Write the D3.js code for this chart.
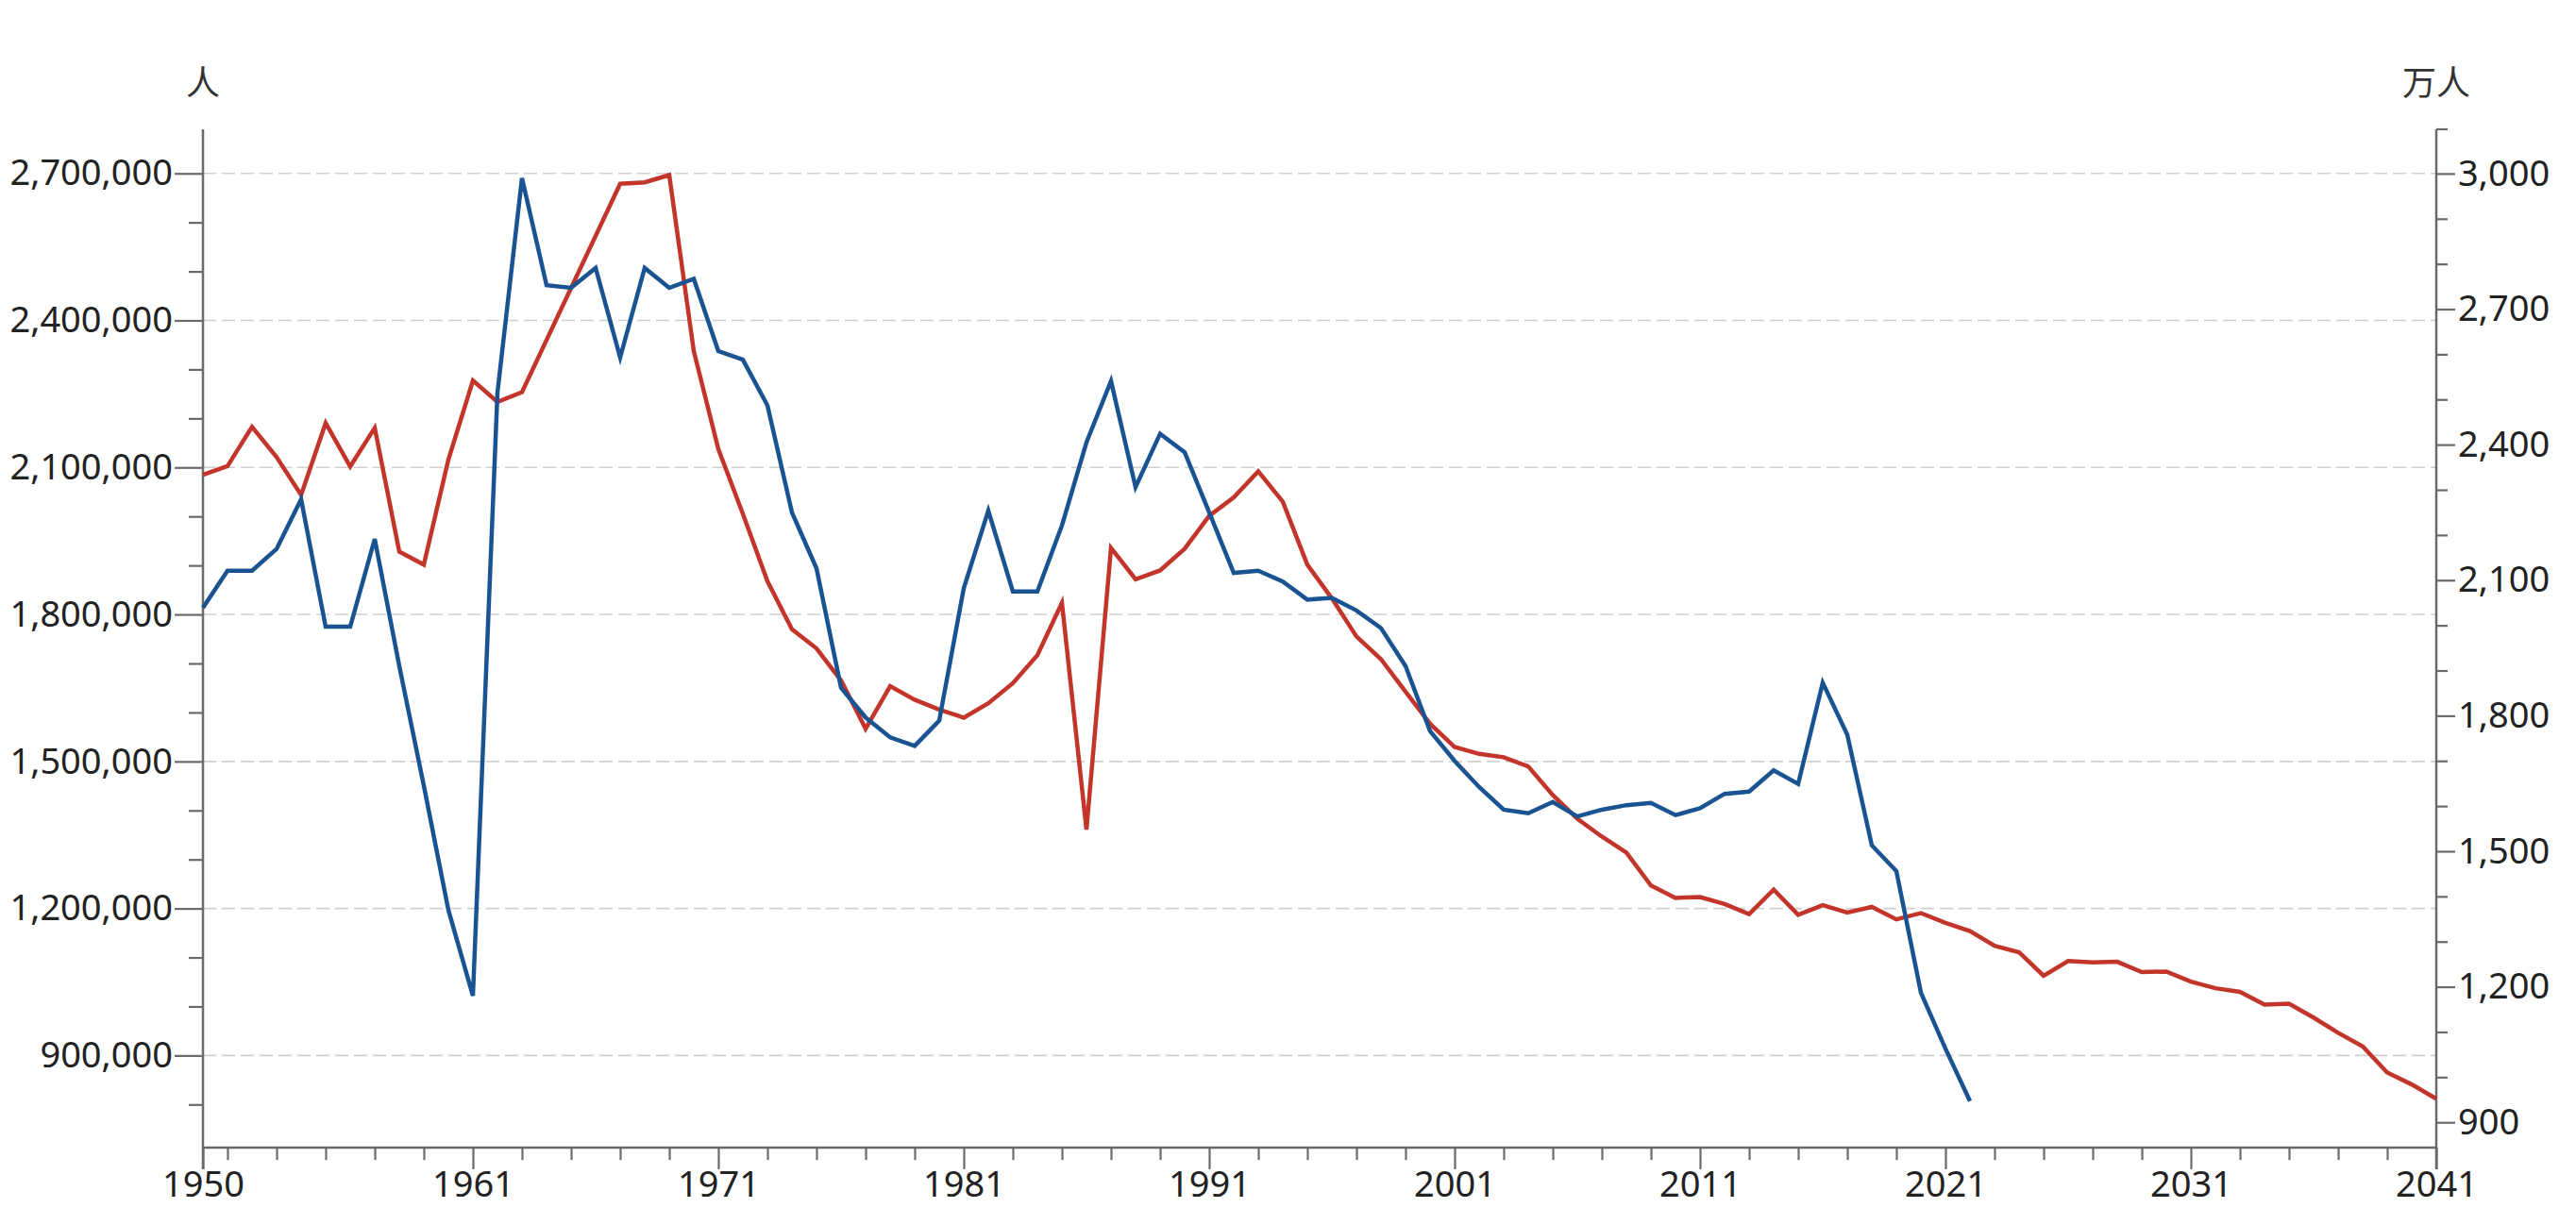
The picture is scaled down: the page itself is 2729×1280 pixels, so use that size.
<!DOCTYPE html>
<html><head><meta charset="utf-8">
<script src="https://cdn.jsdelivr.net/npm/d3@7"></script>
<style>
body{margin:0;background:#fff}
text{font-family:"Noto Sans",sans-serif}
</style>
</head><body>
<svg id="chart" width="2729" height="1280"></svg>
<script>
// ---- data ----
// blue series (right axis, 万人)
const blueYears = d3.range(1950, 2023);
const blueValues = [
  2039, 2121, 2121, 2169, 2279, 1997, 1997, 2191, 1910, 1645,
  1370, 1180, 2515, 2990, 2753, 2747, 2791, 2593, 2791, 2747,
  2767, 2607, 2588, 2487, 2250, 2126, 1862, 1796, 1752, 1733,
  1789, 2082, 2254, 2075, 2075, 2221, 2405, 2541, 2306, 2424,
  2383, 2250, 2116, 2121, 2097, 2057, 2061, 2033, 1994, 1910,
  1766, 1700, 1642, 1592, 1584, 1609, 1577, 1592, 1602, 1607,
  1580, 1595, 1627, 1632, 1679, 1649, 1873, 1758, 1513, 1456,
  1187, 1063, 947
];
// red series (left axis, 人)
const redYears = [
  1950, 1951, 1952, 1953, 1954, 1955, 1956, 1957, 1958, 1959, 1960, 1961, 1962, 1963,
  1967, 1968, 1969, 1970, 1971, 1972, 1973, 1974, 1975, 1976, 1977, 1978, 1979,
  1980, 1981, 1982, 1983, 1984, 1985, 1986, 1987, 1988, 1989,
  1990, 1991, 1992, 1993, 1994, 1995, 1996, 1997, 1998, 1999,
  2000, 2001, 2002, 2003, 2004, 2005, 2006, 2007, 2008, 2009,
  2010, 2011, 2012, 2013, 2014, 2015, 2016, 2017, 2018, 2019,
  2020, 2021, 2022, 2023, 2024, 2025, 2026, 2027, 2028, 2029,
  2030, 2031, 2032, 2033, 2034, 2035, 2036, 2037, 2038, 2039, 2040, 2041
];
const redValues = [
  2085101, 2102784, 2182742, 2121253, 2043783, 2190704, 2101969, 2180734, 1928321, 1901573, 2115867, 2277283, 2233660, 2253535,
  2678792, 2681624, 2696638, 2337507, 2137689, 2005162, 1868040, 1769580, 1730692, 1665278, 1566713, 1653469, 1626088,
  1606041, 1589372, 1618616, 1659521, 1716761, 1823697, 1360974, 1935647, 1871839, 1889815,
  1934239, 2000973, 2038682, 2091983, 2029989, 1901440, 1832617, 1755100, 1708643, 1642580,
  1576889, 1529455, 1515392, 1508687, 1489780, 1431577, 1382946, 1346658, 1314006, 1246802,
  1221585, 1223245, 1208989, 1188282, 1238328, 1187064, 1206555, 1191665, 1203147, 1177669,
  1190547, 1170662, 1153855, 1123610, 1110721, 1062530, 1092674, 1089818, 1091156, 1070036,
  1071305, 1050807, 1037232, 1029817, 1003609, 1005721, 977242, 946146, 918400, 865239, 840835, 811622
];
const xTickLabels = [1950, 1961, 1971, 1981, 1991, 2001, 2011, 2021, 2031, 2041];
const xMinorTicks = d3.range(1951, 2041, 2).filter(y => !xTickLabels.includes(y));
const leftTicks = [900000, 1200000, 1500000, 1800000, 2100000, 2400000, 2700000];
const leftMinor = [800000, 1000000, 1100000, 1300000, 1400000, 1600000, 1700000, 1900000, 2000000, 2200000, 2300000, 2500000, 2600000];
const rightTicks = [900, 1200, 1500, 1800, 2100, 2400, 2700, 3000];
const rightMinor = [1000, 1100, 1300, 1400, 1600, 1700, 1900, 2000, 2200, 2300, 2500, 2600, 2800, 2900];
const leftUnit = "人";
const rightUnit = "万人";

// ---- layout ----
const X0 = 215, X1 = 2581, YT = 137, YB = 1216;
const svg = d3.select("#chart");
const x = d3.scaleLinear().domain([1950, 2041]).range([X0, X1]);
const yL = d3.scaleLinear().domain([712000, 2790000]).range([YB, YT]);
const yR = d3.scaleLinear().domain([844, 3098]).range([YB, YT]);

const axisColor = "#6a6a6a";
const textColor = "#222";

// gridlines
svg.append("g").selectAll("line").data(leftTicks).join("line")
  .attr("x1", X0).attr("x2", X1)
  .attr("y1", d => yL(d)).attr("y2", d => yL(d))
  .attr("stroke", "#cfcfcf").attr("stroke-width", 1.6)
  .attr("stroke-dasharray", "14,6");

function styleAxis(g) {
  g.select(".domain").remove();
  g.selectAll(".tick line").attr("stroke", axisColor).attr("stroke-width", 2.2);
  g.selectAll(".tick text").attr("fill", textColor).style("font-size", "38px")
    .style("font-family", '"Noto Sans", sans-serif');
}

// left axis
svg.append("g").attr("transform", `translate(${X0},0)`)
  .call(d3.axisLeft(yL).tickValues(leftMinor).tickSize(15).tickFormat(""))
  .call(styleAxis);
svg.append("g").attr("transform", `translate(${X0},0)`)
  .call(d3.axisLeft(yL).tickValues(leftTicks).tickSize(30).tickPadding(2).tickFormat(d3.format(",")))
  .call(styleAxis);

// right axis
svg.append("g").attr("transform", `translate(${X1},0)`)
  .call(d3.axisRight(yR).tickValues(rightMinor).tickSize(12).tickFormat(""))
  .call(styleAxis);
svg.append("g").attr("transform", `translate(${X1},0)`)
  .call(d3.axisRight(yR).tickValues(rightTicks).tickSize(20).tickPadding(3).tickFormat(d3.format(",")))
  .call(styleAxis);

// bottom axis
svg.append("g").attr("transform", `translate(0,${YB})`)
  .call(d3.axisBottom(x).tickValues(xMinorTicks).tickSize(13).tickFormat(""))
  .call(styleAxis);
svg.append("g").attr("transform", `translate(0,${YB})`)
  .call(d3.axisBottom(x).tickValues(xTickLabels).tickSize(23).tickPadding(2).tickFormat(d3.format("d")))
  .call(styleAxis);

// axis lines
svg.append("line").attr("x1", X0).attr("x2", X0).attr("y1", YT).attr("y2", YB + 23)
  .attr("stroke", axisColor).attr("stroke-width", 2.5);
svg.append("line").attr("x1", X1).attr("x2", X1).attr("y1", YT).attr("y2", YB + 23)
  .attr("stroke", axisColor).attr("stroke-width", 2.5);
svg.append("line").attr("x1", X1).attr("x2", X1 + 12).attr("y1", YT).attr("y2", YT)
  .attr("stroke", axisColor).attr("stroke-width", 2.2);
svg.append("line").attr("x1", X0).attr("x2", X1).attr("y1", YB).attr("y2", YB)
  .attr("stroke", axisColor).attr("stroke-width", 2.5);

// unit titles
svg.append("text").attr("x", X0).attr("y", 101).attr("text-anchor", "middle")
  .style("font-family", '"Noto Sans CJK SC", sans-serif').style("font-size", "36px")
  .attr("fill", "#333").text(leftUnit);
svg.append("text").attr("x", X1).attr("y", 101).attr("text-anchor", "middle")
  .style("font-family", '"Noto Sans CJK SC", sans-serif').style("font-size", "36px")
  .attr("fill", "#333").text(rightUnit);

// lines
const redData = redYears.map((yr, i) => ({year: yr, v: redValues[i]}));
const blueData = blueYears.map((yr, i) => ({year: yr, v: blueValues[i]}));

svg.append("path").datum(redData)
  .attr("fill", "none").attr("stroke", "#c3352b").attr("stroke-width", 4.5)
  .attr("d", d3.line().x(d => x(d.year)).y(d => yL(d.v)));
svg.append("path").datum(blueData)
  .attr("fill", "none").attr("stroke", "#1a5391").attr("stroke-width", 4.5)
  .attr("d", d3.line().x(d => x(d.year)).y(d => yR(d.v)));
</script>
</body></html>
